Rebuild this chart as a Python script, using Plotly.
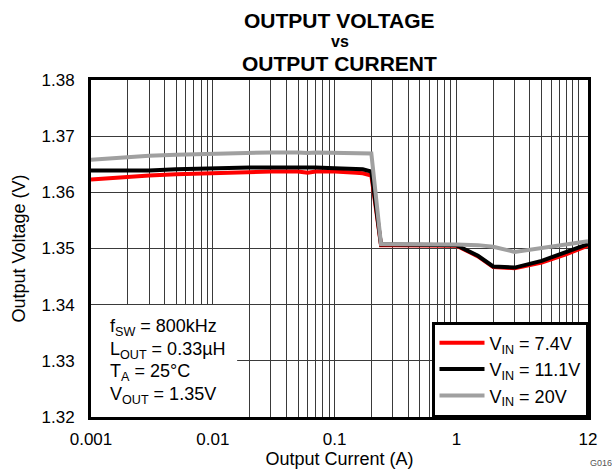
import plotly.graph_objects as go

# ---- data ----
current_a = [0.001, 0.0015, 0.002, 0.003, 0.005, 0.007, 0.01, 0.015, 0.02, 0.03,
             0.05, 0.06, 0.07, 0.1, 0.15, 0.17, 0.2, 0.24, 0.3, 0.5, 0.7, 1.0,
             1.5, 2.0, 3.0, 5.0, 8.0, 12.0]

v_in_7v4 = [1.3623, 1.3626, 1.3628, 1.3630, 1.3632, 1.3633, 1.3634, 1.3635, 1.3636, 1.3637,
            1.3637, 1.3635, 1.3637, 1.3637, 1.3635, 1.3634, 1.3630, 1.3506, 1.3506, 1.3506, 1.3506, 1.3505,
            1.3486, 1.3467, 1.3465, 1.3475, 1.3490, 1.3505]

v_in_11v1 = [1.3639, 1.3639, 1.3639, 1.3639, 1.3641, 1.3642, 1.3643, 1.3643, 1.3644, 1.3644,
             1.3645, 1.3644, 1.3644, 1.3643, 1.3642, 1.3641, 1.3637, 1.3507, 1.3507, 1.3507, 1.3507, 1.3506,
             1.3487, 1.3468, 1.3466, 1.3478, 1.3494, 1.3508]

v_in_20v = [1.3658, 1.3661, 1.3663, 1.3665, 1.3667, 1.3668, 1.3669, 1.3670, 1.3670, 1.3671,
            1.3671, 1.3670, 1.3671, 1.3670, 1.3669, 1.3669, 1.3669, 1.3508, 1.3508, 1.3508, 1.3508, 1.3507,
            1.3506, 1.3503, 1.3494, 1.3501, 1.3507, 1.3513]

series_names = ["V<sub>IN</sub> = 7.4V", "V<sub>IN</sub> = 11.1V", "V<sub>IN</sub> = 20V"]
series_colors = ["#ff0000", "#000000", "#a0a0a0"]

x_tickvals = [0.001, 0.01, 0.1, 1, 12]
x_ticktext = ["0.001", "0.01", "0.1", "1", "12"]
x_minor = [m * d for d in [0.001, 0.01, 0.1, 1] for m in range(2, 10)] + [10]
y_tickvals = [1.32, 1.33, 1.34, 1.35, 1.36, 1.37, 1.38]

condition_lines = ["f<sub>SW</sub> = 800kHz", "L<sub>OUT</sub> = 0.33µH",
                   "T<sub>A</sub> = 25°C", "V<sub>OUT</sub> = 1.35V"]
title_lines = ["OUTPUT VOLTAGE", "vs", "OUTPUT CURRENT"]

FONT = "Arial, Liberation Sans, sans-serif"

fig = go.Figure()
for name, ys, col in zip(series_names, [v_in_7v4, v_in_11v1, v_in_20v], series_colors):
    fig.add_trace(go.Scatter(x=current_a, y=ys, mode="lines", name=name,
                             line=dict(color=col, width=4)))

fig.update_layout(
    width=612, height=469,
    margin=dict(l=91, r=24, t=80, b=52, autoexpand=False),
    paper_bgcolor="white", plot_bgcolor="white",
    font=dict(family=FONT, size=17, color="black"),
    showlegend=True,
    legend=dict(x=1, y=0, xanchor="right", yanchor="bottom",
                bgcolor="white", bordercolor="black", borderwidth=2.5,
                font=dict(size=18), tracegroupgap=0, itemwidth=45),
)

fig.update_xaxes(type="log", range=[-3, 1.0792],
                 tickmode="array", tickvals=x_tickvals, ticktext=x_ticktext,
                 showgrid=True, gridcolor="#3a3a3a", gridwidth=1,
                 minor=dict(tickmode="array", tickvals=x_minor, showgrid=True,
                            gridcolor="#3a3a3a", gridwidth=1, ticks=""),
                 ticks="", ticklabelstandoff=5, automargin=False,
                 showline=True, linecolor="black", linewidth=3, mirror=True,
                 title=dict(text="Output Current (A)", font=dict(size=18), standoff=4),
                 tickfont=dict(size=17))
fig.update_yaxes(range=[1.32, 1.38], tickmode="array", tickvals=y_tickvals,
                 tickformat=".2f",
                 showgrid=True, gridcolor="#3a3a3a", gridwidth=1,
                 ticks="", ticklabelstandoff=10, automargin=False,
                 showline=True, linecolor="black", linewidth=3, mirror=True,
                 zeroline=False,
                 title=dict(text="Output Voltage (V)", font=dict(size=18), standoff=12),
                 tickfont=dict(size=17))

# condition box (white, borderless, covers the grid)
fig.add_shape(type="rect", xref="paper", yref="paper", x0=0, x1=0.294, y0=0, y1=0.332,
              fillcolor="white", line=dict(width=0), layer="above")
cond_y = [0.265, 0.198, 0.132, 0.065]
for txt, yy in zip(condition_lines, cond_y):
    fig.add_annotation(xref="paper", yref="paper", x=0.034, y=yy, xanchor="left",
                       yanchor="middle", align="left", showarrow=False,
                       text=txt, font=dict(size=18))

# title
title_shift = [60, 39, 17]
title_size = [21, 16, 21]
for txt, sh, fs in zip(title_lines, title_shift, title_size):
    fig.add_annotation(xref="paper", yref="paper", x=0.5, y=1, yshift=sh, showarrow=False,
                       text="<b>" + txt + "</b>", font=dict(size=fs), yanchor="middle")

fig.add_annotation(xref="paper", yref="paper", x=1, y=0, xanchor="right", yanchor="middle",
                   xshift=26, yshift=-46, showarrow=False, text="G016",
                   font=dict(size=9, color="#555555"))

fig.write_html("out.html", config={"displayModeBar": False},
               post_script="document.body.style.margin='0';document.body.style.padding='0';")
